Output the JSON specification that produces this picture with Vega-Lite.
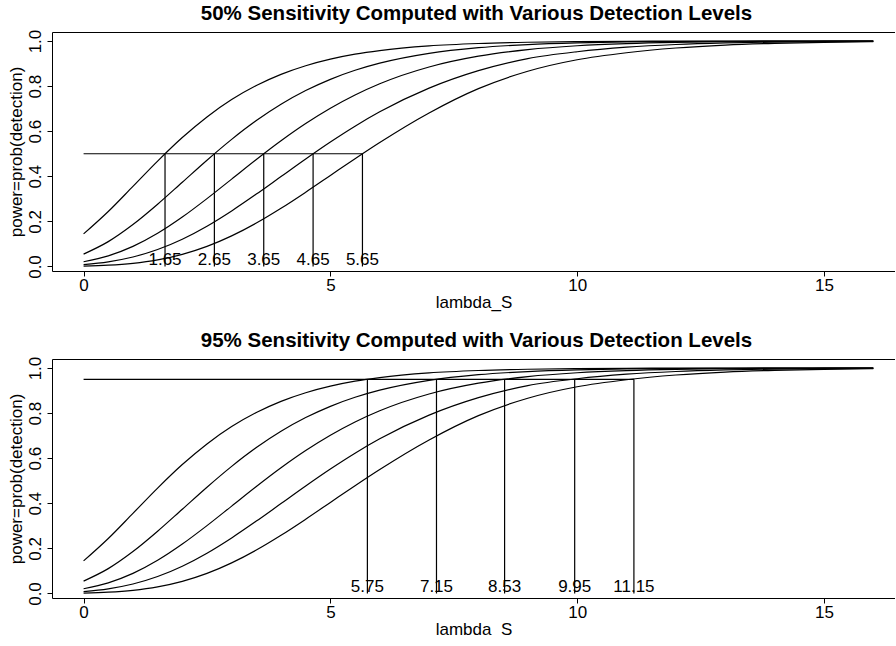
{
  "$schema": "https://vega.github.io/schema/vega-lite/v6.json",
  "background": "white",
  "padding": {"left": 7, "top": 3, "right": 0, "bottom": 0},
  "spacing": 20,
  "config": {
    "font": "Liberation Sans",
    "view": {"stroke": null},
    "axis": {"domainColor": "black", "tickColor": "black", "labelColor": "black", "titleColor": "black", "grid": false, "labelFontSize": 17, "titleFontSize": 17, "titleFontWeight": "normal", "tickSize": 5, "domainWidth": 1, "tickWidth": 1, "labelFont": "Liberation Sans", "titleFont": "Liberation Sans"},
    "title": {"fontSize": 20.5, "fontWeight": "bold", "font": "Liberation Sans", "color": "black", "anchor": "middle"}
  },
  "datasets": {
    "curves": [
      {"curve": "c1", "s": 0, "p": 0.1446}, {"curve": "c1", "s": 0.5, "p": 0.2439}, {"curve": "c1", "s": 1, "p": 0.3555}, {"curve": "c1", "s": 1.5, "p": 0.4676}, {"curve": "c1", "s": 2, "p": 0.5719}, {"curve": "c1", "s": 2.5, "p": 0.6634}, {"curve": "c1", "s": 3, "p": 0.7403}, {"curve": "c1", "s": 3.5, "p": 0.8027}, {"curve": "c1", "s": 4, "p": 0.8522}, {"curve": "c1", "s": 4.5, "p": 0.8905}, {"curve": "c1", "s": 5, "p": 0.9196}, {"curve": "c1", "s": 5.5, "p": 0.9415}, {"curve": "c1", "s": 6, "p": 0.9577}, {"curve": "c1", "s": 7, "p": 0.9783}, {"curve": "c1", "s": 8, "p": 0.989}, {"curve": "c1", "s": 9, "p": 0.9946}, {"curve": "c1", "s": 10, "p": 0.9973}, {"curve": "c1", "s": 11, "p": 0.9987}, {"curve": "c1", "s": 12, "p": 0.9994}, {"curve": "c1", "s": 13, "p": 0.9997}, {"curve": "c1", "s": 14, "p": 0.9999}, {"curve": "c1", "s": 15, "p": 0.9999}, {"curve": "c1", "s": 16, "p": 1.0},
      {"curve": "c2", "s": 0, "p": 0.055}, {"curve": "c2", "s": 0.5, "p": 0.1103}, {"curve": "c2", "s": 1, "p": 0.1859}, {"curve": "c2", "s": 1.5, "p": 0.2761}, {"curve": "c2", "s": 2, "p": 0.3737}, {"curve": "c2", "s": 2.5, "p": 0.4715}, {"curve": "c2", "s": 3, "p": 0.5639}, {"curve": "c2", "s": 3.5, "p": 0.6471}, {"curve": "c2", "s": 4, "p": 0.7194}, {"curve": "c2", "s": 4.5, "p": 0.7802}, {"curve": "c2", "s": 5, "p": 0.8301}, {"curve": "c2", "s": 5.5, "p": 0.8702}, {"curve": "c2", "s": 6, "p": 0.9018}, {"curve": "c2", "s": 7, "p": 0.9453}, {"curve": "c2", "s": 8, "p": 0.9703}, {"curve": "c2", "s": 9, "p": 0.9843}, {"curve": "c2", "s": 10, "p": 0.9918}, {"curve": "c2", "s": 11, "p": 0.9958}, {"curve": "c2", "s": 12, "p": 0.9979}, {"curve": "c2", "s": 13, "p": 0.9989}, {"curve": "c2", "s": 14, "p": 0.9995}, {"curve": "c2", "s": 15, "p": 0.9997}, {"curve": "c2", "s": 16, "p": 0.9999},
      {"curve": "c3", "s": 0, "p": 0.021}, {"curve": "c3", "s": 0.5, "p": 0.0472}, {"curve": "c3", "s": 1, "p": 0.0891}, {"curve": "c3", "s": 1.5, "p": 0.1471}, {"curve": "c3", "s": 2, "p": 0.2191}, {"curve": "c3", "s": 2.5, "p": 0.3009}, {"curve": "c3", "s": 3, "p": 0.3876}, {"curve": "c3", "s": 3.5, "p": 0.4745}, {"curve": "c3", "s": 4, "p": 0.5576}, {"curve": "c3", "s": 4.5, "p": 0.634}, {"curve": "c3", "s": 5, "p": 0.7019}, {"curve": "c3", "s": 5.5, "p": 0.7607}, {"curve": "c3", "s": 6, "p": 0.8104}, {"curve": "c3", "s": 7, "p": 0.8848}, {"curve": "c3", "s": 8, "p": 0.9327}, {"curve": "c3", "s": 9, "p": 0.9619}, {"curve": "c3", "s": 10, "p": 0.979}, {"curve": "c3", "s": 11, "p": 0.9886}, {"curve": "c3", "s": 12, "p": 0.994}, {"curve": "c3", "s": 13, "p": 0.9968}, {"curve": "c3", "s": 14, "p": 0.9984}, {"curve": "c3", "s": 15, "p": 0.9992}, {"curve": "c3", "s": 16, "p": 0.9996},
      {"curve": "c4", "s": 0, "p": 0.0086}, {"curve": "c4", "s": 0.5, "p": 0.0207}, {"curve": "c4", "s": 1, "p": 0.0421}, {"curve": "c4", "s": 1.5, "p": 0.0752}, {"curve": "c4", "s": 2, "p": 0.121}, {"curve": "c4", "s": 2.5, "p": 0.1788}, {"curve": "c4", "s": 3, "p": 0.2465}, {"curve": "c4", "s": 3.5, "p": 0.321}, {"curve": "c4", "s": 4, "p": 0.399}, {"curve": "c4", "s": 4.5, "p": 0.477}, {"curve": "c4", "s": 5, "p": 0.5522}, {"curve": "c4", "s": 5.5, "p": 0.6223}, {"curve": "c4", "s": 6, "p": 0.6859}, {"curve": "c4", "s": 7, "p": 0.7909}, {"curve": "c4", "s": 8, "p": 0.8685}, {"curve": "c4", "s": 9, "p": 0.922}, {"curve": "c4", "s": 10, "p": 0.9525}, {"curve": "c4", "s": 11, "p": 0.9725}, {"curve": "c4", "s": 12, "p": 0.9845}, {"curve": "c4", "s": 13, "p": 0.9914}, {"curve": "c4", "s": 14, "p": 0.9953}, {"curve": "c4", "s": 15, "p": 0.9974}, {"curve": "c4", "s": 16, "p": 0.9986},
      {"curve": "c5", "s": 0, "p": 0.0019}, {"curve": "c5", "s": 0.5, "p": 0.0057}, {"curve": "c5", "s": 1, "p": 0.014}, {"curve": "c5", "s": 1.5, "p": 0.0292}, {"curve": "c5", "s": 2, "p": 0.0537}, {"curve": "c5", "s": 2.5, "p": 0.089}, {"curve": "c5", "s": 3, "p": 0.1356}, {"curve": "c5", "s": 3.5, "p": 0.1926}, {"curve": "c5", "s": 4, "p": 0.2581}, {"curve": "c5", "s": 4.5, "p": 0.3295}, {"curve": "c5", "s": 5, "p": 0.4038}, {"curve": "c5", "s": 5.5, "p": 0.4781}, {"curve": "c5", "s": 6, "p": 0.5499}, {"curve": "c5", "s": 7, "p": 0.681}, {"curve": "c5", "s": 8, "p": 0.789}, {"curve": "c5", "s": 9, "p": 0.866}, {"curve": "c5", "s": 10, "p": 0.917}, {"curve": "c5", "s": 11, "p": 0.948}, {"curve": "c5", "s": 12, "p": 0.969}, {"curve": "c5", "s": 13, "p": 0.9822}, {"curve": "c5", "s": 14, "p": 0.9898}, {"curve": "c5", "s": 15, "p": 0.9943}, {"curve": "c5", "s": 16, "p": 0.9968}
    ],
    "m50": [
      {"L": 1.65, "label": "1.65", "level": 0.5, "base": 0},
      {"L": 2.65, "label": "2.65", "level": 0.5, "base": 0},
      {"L": 3.65, "label": "3.65", "level": 0.5, "base": 0},
      {"L": 4.65, "label": "4.65", "level": 0.5, "base": 0},
      {"L": 5.65, "label": "5.65", "level": 0.5, "base": 0}
    ],
    "h50": [{"from": 0, "to": 5.65, "level": 0.5}],
    "m95": [
      {"L": 5.75, "label": "5.75", "level": 0.95, "base": 0},
      {"L": 7.15, "label": "7.15", "level": 0.95, "base": 0},
      {"L": 8.53, "label": "8.53", "level": 0.95, "base": 0},
      {"L": 9.95, "label": "9.95", "level": 0.95, "base": 0},
      {"L": 11.15, "label": "11.15", "level": 0.95, "base": 0}
    ],
    "h95": [{"from": 0, "to": 11.15, "level": 0.95}]
  },
  "vconcat": [
    {
      "title": {"text": "50% Sensitivity Computed with Various Detection Levels", "offset": 5, "dx": 3},
      "width": 843,
      "height": 239,
      "resolve": {"axis": {"x": "independent", "y": "independent"}},
      "layer": [
        {
          "data": {"name": "curves"},
          "mark": {"type": "line", "color": "black", "strokeWidth": 1.2, "interpolate": "monotone"},
          "encoding": {
            "x": {"field": "s", "type": "quantitative", "scale": {"domain": [-0.64, 16.44], "nice": false, "zero": false}, "axis": {"values": [0, 5, 10, 15], "title": "lambda_S", "labelPadding": 1, "titlePadding": 1, "labelFlush": false}},
            "y": {"field": "p", "type": "quantitative", "scale": {"domain": [-0.02, 1.04], "nice": false, "zero": false}, "axis": {"values": [0, 0.2, 0.4, 0.6, 0.8, 1], "format": ".1f", "labelAngle": 270, "labelPadding": 3, "title": "power=prob(detection)", "titlePadding": 1}},
            "detail": {"field": "curve", "type": "nominal"}
          }
        },
        {
          "data": {"name": "h50"},
          "mark": {"type": "rule", "color": "black", "strokeWidth": 1.2},
          "encoding": {
            "x": {"field": "from", "type": "quantitative", "axis": {"orient": "top", "labels": false, "ticks": false, "title": null, "domain": true}},
            "x2": {"field": "to"},
            "y": {"field": "level", "type": "quantitative", "axis": null}
          }
        },
        {
          "data": {"name": "m50"},
          "mark": {"type": "rule", "color": "black", "strokeWidth": 1.2},
          "encoding": {
            "x": {"field": "L", "type": "quantitative", "axis": null},
            "y": {"field": "base", "type": "quantitative", "axis": null},
            "y2": {"field": "level"}
          }
        },
        {
          "data": {"name": "m50"},
          "mark": {"type": "text", "fontSize": 17, "baseline": "middle", "dy": -6, "color": "black", "font": "Liberation Sans"},
          "encoding": {
            "x": {"field": "L", "type": "quantitative", "axis": null},
            "y": {"field": "base", "type": "quantitative", "axis": null},
            "text": {"field": "label", "type": "nominal"}
          }
        }
      ]
    },
    {
      "title": {"text": "95% Sensitivity Computed with Various Detection Levels", "offset": 5, "dx": 3},
      "width": 843,
      "height": 239,
      "resolve": {"axis": {"x": "independent", "y": "independent"}},
      "layer": [
        {
          "data": {"name": "curves"},
          "mark": {"type": "line", "color": "black", "strokeWidth": 1.2, "interpolate": "monotone"},
          "encoding": {
            "x": {"field": "s", "type": "quantitative", "scale": {"domain": [-0.64, 16.44], "nice": false, "zero": false}, "axis": {"values": [0, 5, 10, 15], "title": "lambda_S", "labelPadding": 1, "titlePadding": 1, "labelFlush": false}},
            "y": {"field": "p", "type": "quantitative", "scale": {"domain": [-0.02, 1.04], "nice": false, "zero": false}, "axis": {"values": [0, 0.2, 0.4, 0.6, 0.8, 1], "format": ".1f", "labelAngle": 270, "labelPadding": 3, "title": "power=prob(detection)", "titlePadding": 1}},
            "detail": {"field": "curve", "type": "nominal"}
          }
        },
        {
          "data": {"name": "h95"},
          "mark": {"type": "rule", "color": "black", "strokeWidth": 1.2},
          "encoding": {
            "x": {"field": "from", "type": "quantitative", "axis": {"orient": "top", "labels": false, "ticks": false, "title": null, "domain": true}},
            "x2": {"field": "to"},
            "y": {"field": "level", "type": "quantitative", "axis": null}
          }
        },
        {
          "data": {"name": "m95"},
          "mark": {"type": "rule", "color": "black", "strokeWidth": 1.2},
          "encoding": {
            "x": {"field": "L", "type": "quantitative", "axis": null},
            "y": {"field": "base", "type": "quantitative", "axis": null},
            "y2": {"field": "level"}
          }
        },
        {
          "data": {"name": "m95"},
          "mark": {"type": "text", "fontSize": 17, "baseline": "middle", "dy": -6, "color": "black", "font": "Liberation Sans"},
          "encoding": {
            "x": {"field": "L", "type": "quantitative", "axis": null},
            "y": {"field": "base", "type": "quantitative", "axis": null},
            "text": {"field": "label", "type": "nominal"}
          }
        }
      ]
    }
  ]
}
